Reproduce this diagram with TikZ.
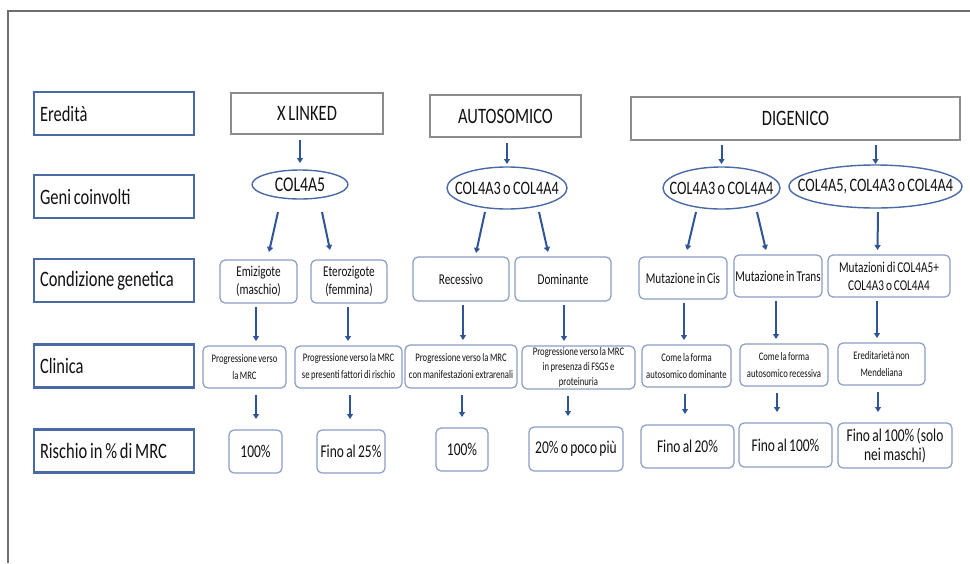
\documentclass[tikz,border=0pt]{standalone}
\usepackage{fontspec}
\setmainfont{Carlito}[FakeStretch=0.75, WordSpace=0.75]
\usepackage{tikz}
\usetikzlibrary{calc}
\usetikzlibrary{arrows.meta}
\usetikzlibrary{shapes.geometric}
\definecolor{labblue}{HTML}{4A6AA6}
\definecolor{arrblue}{HTML}{2F5597}
\definecolor{boxblue}{HTML}{8A9DC4}
\definecolor{framegray}{HTML}{6E6E6E}
\definecolor{topgray}{HTML}{8C8C8C}
\definecolor{txt}{HTML}{111111}

\begin{document}
\begin{tikzpicture}[x=1pt, y=-1pt, text=txt, inner sep=0pt, outer sep=0pt,
  lab/.style={draw=labblue, line width=2.2pt, minimum height=43pt, text width=148pt, inner xsep=6pt, align=flush left, font=\fontsize{22}{26}\selectfont},
  top/.style 2 args={draw=topgray, line width=1.8pt, minimum width=#1pt, minimum height=#2pt, font=\fontsize{22}{26}\selectfont},
  ell/.style 2 args={ellipse, draw=labblue, line width=1.4pt, inner xsep=-30pt, minimum width=#1pt, minimum height=#2pt, font=\fontsize{19}{22}\selectfont},
  rb/.style 2 args={draw=boxblue, line width=1.2pt, rounded corners=5pt, fill=white, minimum width=#1pt, minimum height=#2pt, align=center},
  cond/.style={font=\fontsize{15}{18}\selectfont},
  clin/.style={font=\fontsize{11.5}{17}\selectfont},
  risk/.style={font=\fontsize{18}{19}\selectfont},
  arr/.style={draw=arrblue, line width=2pt, -{Triangle[length=5pt,width=6pt]}}]

  \useasboundingbox (0,0) rectangle (970,563);
  \draw[framegray, line width=2pt] (8,563) -- (8,11) -- (970,11);

  \foreach \n/\y/\t in {l1/113.5/Eredità, l2/196.5/Geni coinvolti, l3/280.5/Condizione genetica, l4/366/Clinica, l5/451/{Rischio in \% di MRC}}
    \node[lab] (\n) at (114,\y) {\t};

  \node[top={152}{41}] (xl) at (307,113.5) {X LINKED};
  \node[top={151}{42}] (au) at (505.5,116) {AUTOSOMICO};
  \node[top={329}{43}] (dg) at (795.5,118.5) {DIGENICO};

  \node[ell={96}{29}, font=\fontsize{21}{22}\selectfont] (c5) at (300,184.5) {COL4A5};
  \node[ell={120}{42}] (ca) at (507,188) {COL4A3 o COL4A4};
  \node[ell={117}{42}] (cd) at (721.5,188) {COL4A3 o COL4A4};
  \node[ell={173}{43}] (cm) at (875.5,186.5) {COL4A5, COL4A3 o COL4A4};

  \node[rb={77}{43}, cond] (emi) at (258.5,281.5) {Emizigote\\(maschio)};
  \node[rb={76}{43}, cond] (ete) at (349,281.5) {Eterozigote\\(femmina)};
  \node[rb={96}{44}, cond] (rec) at (461,279) {Recessivo};
  \node[rb={96}{44}, cond] (dom) at (563,279) {Dominante};
  \node[rb={88}{42}, cond] (cis) at (683,278) {Mutazione in Cis};
  \node[rb={88}{42}, cond] (tra) at (778,276) {Mutazione in Trans};
  \node[rb={122}{42}, cond] (mut) at (889,276) {Mutazioni di COL4A5+\\COL4A3 o COL4A4};

  \node[rb={83}{42}, clin] (p1) at (244.5,367) {Progressione verso\\la MRC};
  \node[rb={107}{42}, clin] (p2) at (348.5,367) {Progressione verso la MRC\\se presenti fattori di rischio};
  \node[rb={112}{43}, clin] (p3) at (461,366.5) {Progressione verso la MRC\\con manifestazioni extrarenali};
  \node[rb={113}{43}, clin, font=\fontsize{11.5}{15}\selectfont] (p4) at (578.5,367.5) {Progressione verso la MRC\\in presenza di FSGS e\\proteinuria};
  \node[rb={89}{42}, clin] (p5) at (686.5,366) {Come la forma\\autosomico dominante};
  \node[rb={88}{42}, clin] (p6) at (784,365) {Come la forma\\autosomico recessiva};
  \node[rb={87}{42}, clin] (p7) at (881.5,364) {Ereditarietà non\\Mendeliana};

  \node[rb={53}{43}, risk] (r1) at (255.5,451.5) {100\%};
  \node[rb={68}{43}, risk] (r2) at (351,451.5) {Fino al 25\%};
  \node[rb={52}{43}, risk] (r3) at (462,449.5) {100\%};
  \node[rb={94}{44}, risk] (r4) at (576,449) {20\% o poco più};
  \node[rb={93}{43}, risk] (r5) at (687.5,446.5) {Fino al 20\%};
  \node[rb={93}{44}, risk] (r6) at (785.5,445) {Fino al 100\%};
  \node[rb={114}{45}, risk] (r7) at (895,445.5) {Fino al 100\% (solo\\nei maschi)};

  \draw[arr, shorten <=6pt, shorten >=7pt] (c5.north |- xl.south) -- (c5.north);
  \draw[arr, shorten <=6pt, shorten >=3pt] (ca.north |- au.south) -- (ca.north);
  \draw[arr, shorten <=5pt, shorten >=3pt] (cd.north |- dg.south) -- (cd.north);
  \draw[arr, shorten <=5pt, shorten >=1pt] (cm.north |- dg.south) -- (cm.north);

  \foreach \a/\b/\sx/\sy/\ex/\ey in {c5/emi/-22/13/10.5/8, c5/ete/22/13/-19/10, ca/rec/-22/3/15/4, ca/dom/32/3/-15/5, cd/cis/-25.5/3/4/7, cd/tra/35.5/3/-12/5, cm/mut/2.5/4/-11.5/5}
    \draw[arr] ($(\a.south)+(\sx,\sy)$) -- ($(\b.north)+(\ex,-\ey)$);

  \foreach \a/\b/\dx in {emi/p1/-2.5, ete/p2/-1, rec/p3/2, dom/p4/1, cis/p5/1, tra/p6/-2, mut/p7/-12}
    \draw[arr] ($(\a.south)+(\dx,4)$) -- ($(\a.south |- \b.north)+(\dx,-5)$);

  \foreach \a/\b/\dx in {p1/r1/0.5, p2/r2/-1, p3/r3/0, p4/r4/-8, p5/r5/-2.5, p6/r6/-8.5, p7/r7/-17}
    \draw[arr] ($(\b.north |- \a.south)+(\dx,7)$) -- ($(\b.north)+(\dx,-11)$);
\end{tikzpicture}
\end{document}
